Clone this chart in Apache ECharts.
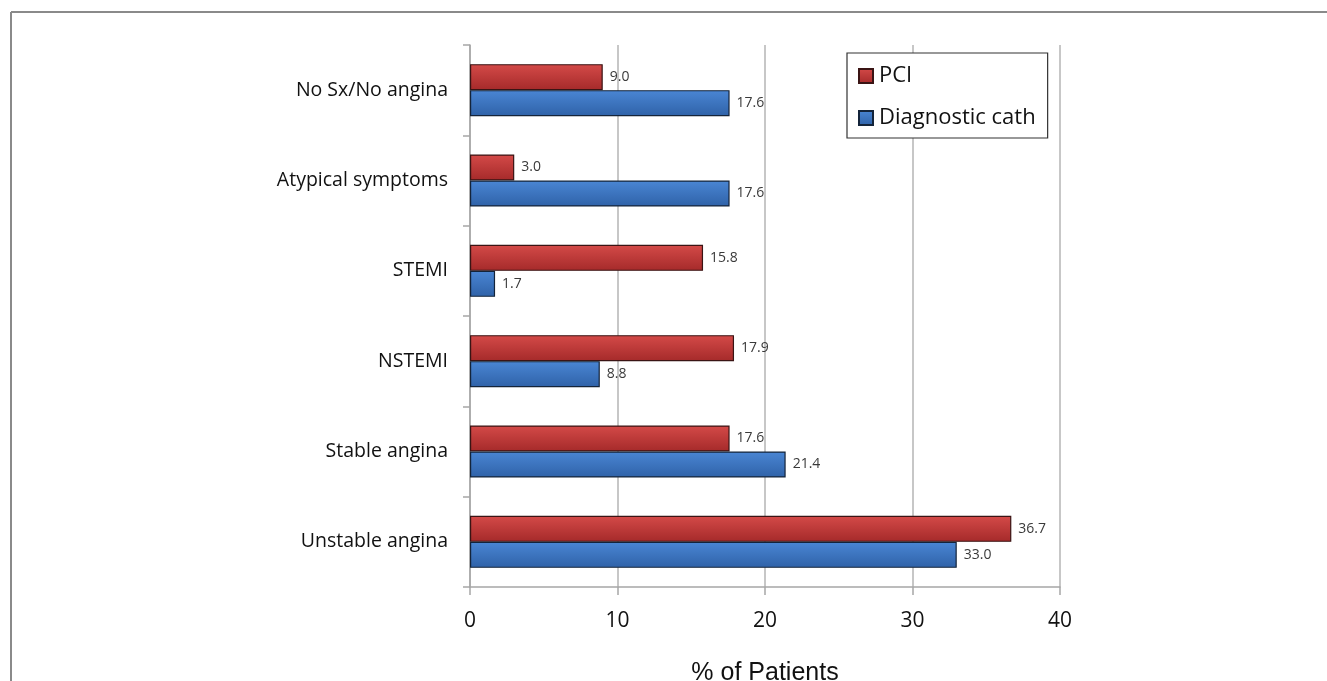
<!DOCTYPE html>
<html>
<head>
<meta charset="utf-8">
<script src="https://cdn.jsdelivr.net/npm/echarts@6/dist/echarts.min.js"></script>
<style>
  html, body { margin: 0; padding: 0; background: #fff; }
  #chart { width: 1327px; height: 681px; }
</style>
</head>
<body>
<div id="chart"></div>
<script>
// Indications, listed bottom to top along the category axis
const categories = ['Unstable angina', 'Stable angina', 'NSTEMI', 'STEMI', 'Atypical symptoms', 'No Sx/No angina'];
const pciValues = [36.7, 17.6, 17.9, 15.8, 3.0, 9.0];
const diagValues = [33.0, 21.4, 8.8, 1.7, 17.6, 17.6];
const xTicks = [0, 10, 20, 30, 40];

const chart = echarts.init(document.getElementById('chart'), null, { renderer: 'canvas' });

const redFill = new echarts.graphic.LinearGradient(0, 0, 0, 1, [
  { offset: 0, color: '#d44a48' },
  { offset: 1, color: '#a52a2a' }
]);
const blueFill = new echarts.graphic.LinearGradient(0, 0, 0, 1, [
  { offset: 0, color: '#4a86d4' },
  { offset: 1, color: '#2f62a8' }
]);

const labelStyle = {
  show: true,
  position: 'right',
  distance: 7,
  color: '#3a3a3a',
  fontFamily: 'Open Sans',
  fontSize: 14,
  formatter: p => p.value.toFixed(1)
};

chart.setOption({
  animation: false,
  textStyle: { fontFamily: 'Open Sans' },
  graphic: [
    { type: 'line', shape: { x1: 11, y1: 12, x2: 1327, y2: 12 }, style: { stroke: '#8a8a8a', lineWidth: 2 } },
    { type: 'line', shape: { x1: 11, y1: 12, x2: 11, y2: 681 }, style: { stroke: '#8a8a8a', lineWidth: 2 } }
  ],
  grid: { left: 470, right: 267, top: 45, bottom: 94, outerBoundsMode: 'none', containLabel: false },
  legend: {
    data: ['PCI', 'Diagnostic cath'],
    orient: 'vertical',
    left: 847,
    top: 53,
    padding: [12, 12, 9, 11],
    backgroundColor: '#fff',
    borderColor: '#333',
    borderWidth: 1.2,
    borderRadius: 0,
    icon: 'rect',
    itemWidth: 14,
    itemHeight: 14,
    itemGap: 20,
    textStyle: { fontFamily: 'Open Sans', fontSize: 22, color: '#111', padding: [0, 0, 0, 1] }
  },
  xAxis: {
    type: 'value',
    min: xTicks[0],
    max: xTicks[xTicks.length - 1],
    interval: 10,
    name: '% of Patients',
    nameLocation: 'middle',
    nameGap: 74,
    nameTextStyle: { fontFamily: 'Liberation Sans', fontSize: 25, color: '#111' },
    axisLine: { show: true, lineStyle: { color: '#a6a6a6', width: 1.5 } },
    axisTick: { show: true, length: 8, lineStyle: { color: '#a6a6a6', width: 1.5 } },
    axisLabel: { margin: 24, fontFamily: 'Open Sans', fontSize: 21, color: '#111' },
    splitLine: { show: true, lineStyle: { color: '#b4b4b4', width: 1.5 } }
  },
  yAxis: {
    type: 'category',
    data: categories,
    axisLine: { show: true, lineStyle: { color: '#a6a6a6', width: 1.5 } },
    axisTick: { show: true, length: 7, lineStyle: { color: '#a6a6a6', width: 1.5 } },
    axisLabel: { margin: 22, fontFamily: 'Open Sans', fontSize: 19.5, color: '#111' },
    splitLine: { show: false }
  },
  series: [
    {
      name: 'PCI',
      type: 'bar',
      data: pciValues,
      barWidth: 26,
      barGap: '0%',
      itemStyle: { color: redFill, borderColor: '#3a1414', borderWidth: 1.2 },
      label: labelStyle
    },
    {
      name: 'Diagnostic cath',
      type: 'bar',
      data: diagValues,
      barWidth: 26,
      barGap: '0%',
      itemStyle: { color: blueFill, borderColor: '#14243a', borderWidth: 1.2 },
      label: labelStyle
    }
  ]
});
</script>
</body>
</html>
